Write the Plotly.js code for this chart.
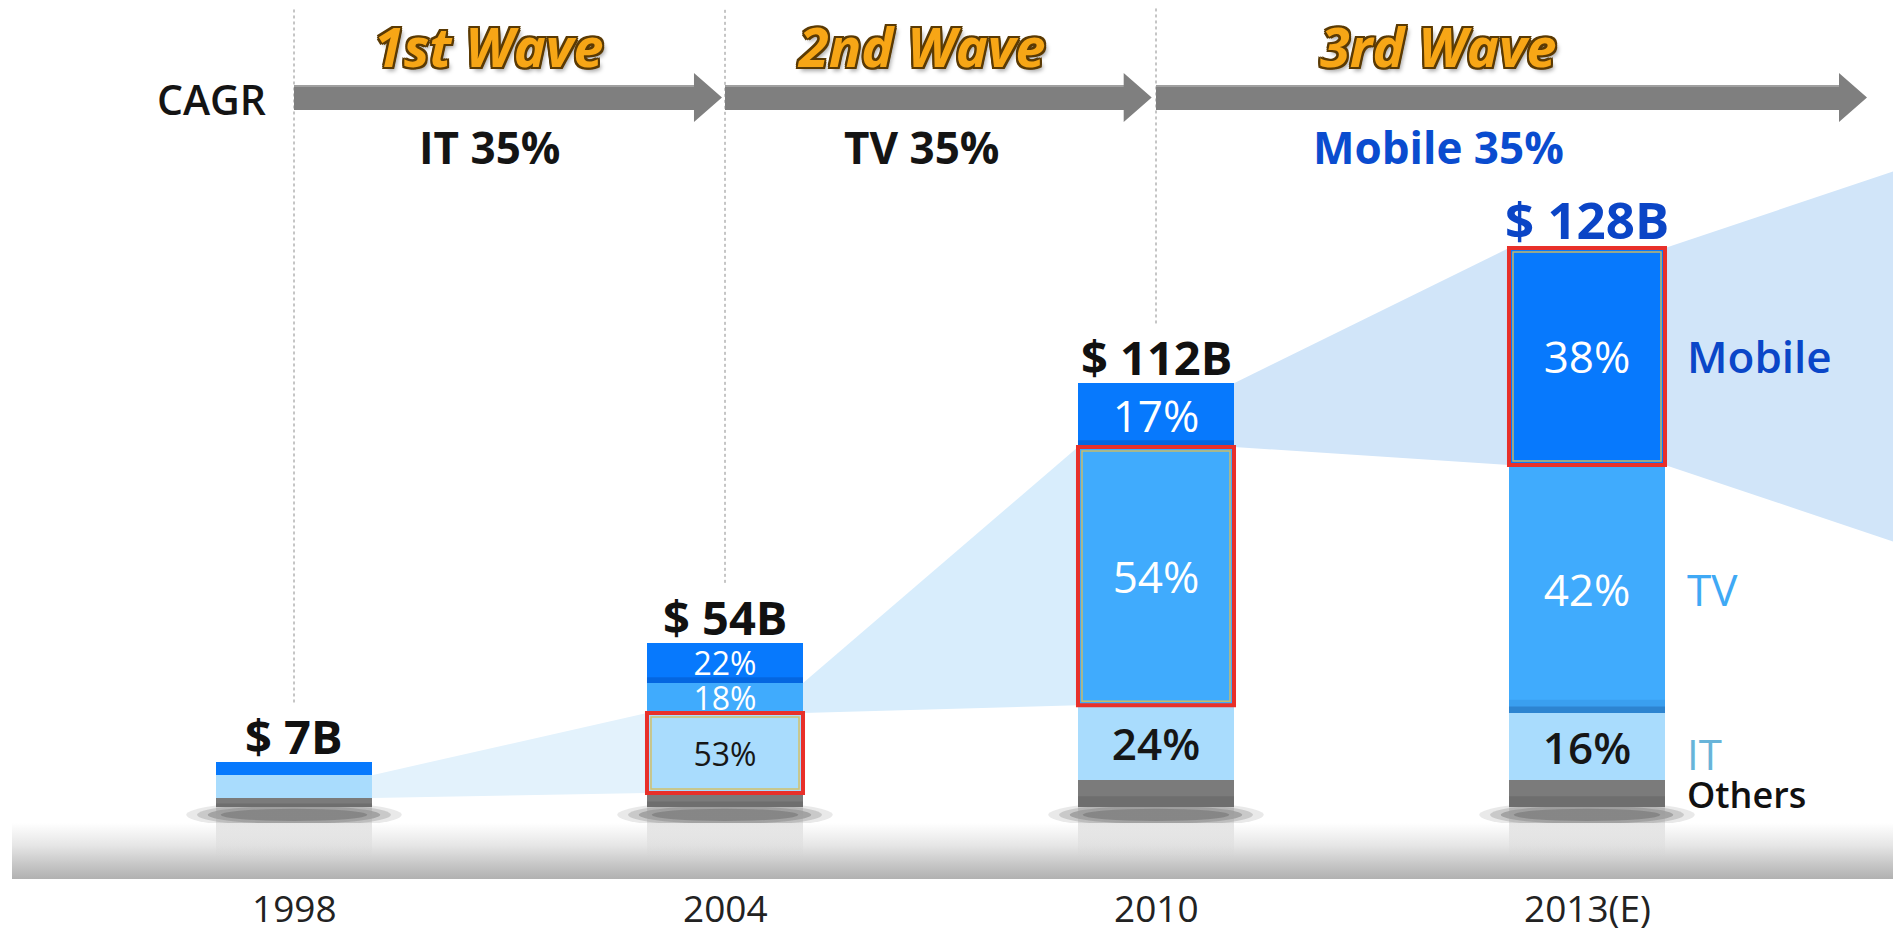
<!DOCTYPE html>
<html>
<head>
<meta charset="utf-8">
<script src="https://cdn.plot.ly/plotly-3.0.1.min.js"></script>
<style>
html,body{margin:0;padding:0;background:#ffffff;overflow:hidden;}
#chart{width:1893px;height:933px;}
</style>
</head>
<body>
<div id="chart"></div>
<script>
// ---------------- DATA ----------------
const years = ['1998', '2004', '2010', '2013(E)'];
const totalLabels = ['$ 7B', '$ 54B', '$ 112B', '$ 128B'];
// stacked segment sizes as drawn in the picture (2013 bar = 100)
const others = [1.6, 2.5, 4.8, 4.8];
const it = [4.1, 14.3, 13.4, 12.0];
const tv = [0, 5.4, 46.2, 44.4];
const mobile = [2.3, 7.2, 11.4, 38.8];
const itLabels = ['', '53%', '24%', '16%'];
const tvLabels = ['', '18%', '54%', '42%'];
const mobileLabels = ['', '22%', '17%', '38%'];
const highlighted = [null, 'IT', 'TV', 'Mobile'];
const waves = ['1st Wave', '2nd Wave', '3rd Wave'];
const cagrLabels = ['IT 35%', 'TV 35%', 'Mobile 35%'];
const segmentNames = ['Mobile', 'TV', 'IT', 'Others'];

(function () {
// ---------------- LAYOUT CONSTANTS ----------------
const W = 1893, H = 933;
const PXX = 431, X0PX = 294;          // pixels per category step, pixel of first category
const PXY = 5.59, Y0PX = 807;         // pixels per y unit, pixel of baseline
const xRange = [-X0PX / PXX, (W - X0PX) / PXX];
const yRange = [-(H - Y0PX) / PXY, Y0PX / PXY];
const yOf = p => (Y0PX - p) / PXY;    // pixel row -> y units (for decoration)
const xOf = p => (p - X0PX) / PXX;    // pixel col -> x units (for decoration)
const pY = p => 1 - p / H;            // pixel row -> paper
const barW = 0.362, hw = barW / 2;
const FONT = 'Open Sans';

const idx = years.map((_, i) => i);
const b1 = idx.map(i => others[i]);
const b2 = idx.map(i => b1[i] + it[i]);
const b3 = idx.map(i => b2[i] + tv[i]);
const tops = idx.map(i => b3[i] + mobile[i]);
const segBounds = {Others: [idx.map(() => 0), b1], IT: [b1, b2], TV: [b2, b3], Mobile: [b3, tops]};

// ---------------- TRACES ----------------
const traces = [];
function barTrace(name, vals, color, labels, tcolor, weights) {
  return {
    type: 'bar', name: name, x: idx, y: vals, width: barW,
    marker: {color: color, line: {width: 0}},
    text: labels, textposition: 'inside', insidetextanchor: 'middle',
    textangle: 0, constraintext: 'none',
    textfont: {family: FONT, size: idx.map(i => i === 1 ? 32 : 44), color: tcolor, weight: weights},
    hoverinfo: 'skip', showlegend: false, cliponaxis: false
  };
}
traces.push(barTrace('Others', others, '#7b7b7b', ['', '', '', ''], '#ffffff', 400));
traces.push(barTrace('IT', it, '#a9dcfd', itLabels, '#161616', [400, 400, 600, 600]));
traces.push(barTrace('TV', tv, '#40abfd', tvLabels, '#ffffff', 400));
traces.push(barTrace('Mobile', mobile, '#0779fd', mobileLabels, '#ffffff', 400));

// funnel wedges linking the highlighted segment from one bar to the next
function wedge(i, seg, color) {
  const [lo, hi] = segBounds[seg];
  return {
    type: 'scatter', mode: 'none', fill: 'toself', fillcolor: color,
    x: [i + hw, i + hw, i + 1 - hw, i + 1 - hw, i + hw],
    y: [lo[i], hi[i], hi[i + 1], lo[i + 1], lo[i]],
    hoverinfo: 'skip', showlegend: false
  };
}
traces.push(wedge(0, 'IT', '#e3f2fc'));
traces.push(wedge(1, 'TV', '#d8edfc'));
traces.push(wedge(2, 'Mobile', '#d1e5f9'));
const flare = 13.7;
traces.push({
  type: 'scatter', mode: 'none', fill: 'toself', fillcolor: '#d1e5f9',
  x: [3 + hw, 3 + hw, xRange[1], xRange[1], 3 + hw],
  y: [b3[3], tops[3], tops[3] + flare, b3[3] - flare, b3[3]],
  hoverinfo: 'skip', showlegend: false
});

// ground band
const gx0 = xOf(12), gTop = yOf(823), gBot = yOf(879);
traces.push({
  type: 'scatter', mode: 'none', fill: 'toself',
  x: [gx0, xRange[1], xRange[1], gx0, gx0], y: [gTop, gTop, gBot, gBot, gTop],
  fillgradient: {type: 'vertical', colorscale: [[0, '#b1b1b1'], [0.22, '#c3c3c3'], [0.6, '#e6e6e6'], [1, '#ffffff']]},
  hoverinfo: 'skip', showlegend: false
});
// reflections under bars
const rx = [], ry = [];
idx.forEach(i => {
  rx.push(i - hw, i + hw, i + hw, i - hw, i - hw, null);
  ry.push(0, 0, yOf(858), yOf(858), 0, null);
});
traces.push({
  type: 'scatter', mode: 'none', fill: 'toself', x: rx, y: ry,
  fillgradient: {type: 'vertical', colorscale: [[0, 'rgba(190,190,190,0)'], [1, 'rgba(150,150,150,0.4)']]},
  hoverinfo: 'skip', showlegend: false
});

// ---------------- SHAPES ----------------
const shapes = [];
// bar shadows (soft layered ellipses)
idx.forEach(i => {
  [[0.25, 2.4, 0.10], [0.225, 2.0, 0.16], [0.2, 1.6, 0.24], [0.17, 1.1, 0.32]].forEach(([rxw, ryh, op]) => {
    shapes.push({type: 'circle', xref: 'x', yref: 'y', layer: 'below',
      x0: i - rxw, x1: i + rxw, y0: -1.4 - ryh, y1: -1.4 + ryh,
      fillcolor: 'rgba(40,40,40,' + op + ')', line: {width: 0}});
  });
});
// darker gradient bands at the bottom of some segments
function band(i, seg, h, color) {
  const lo = segBounds[seg][0][i];
  shapes.push({type: 'rect', xref: 'x', yref: 'y', x0: i - hw, x1: i + hw, y0: lo, y1: lo + h,
    fillcolor: color, line: {width: 0}, layer: 'above'});
}
band(1, 'Mobile', 1.0, 'rgba(0,60,160,0.30)');
band(2, 'Mobile', 1.2, 'rgba(0,60,160,0.30)');
band(3, 'TV', 1.2, 'rgba(20,70,140,0.30)');
band(3, 'TV', 2.4, 'rgba(20,70,140,0.12)');
idx.forEach(i => band(i, 'Others', others[i] * 0.4, 'rgba(40,40,40,0.15)'));
// dotted guide lines
for (let i = 0; i < 3; i++) {
  shapes.push({type: 'line', xref: 'x', yref: 'y', x0: i, x1: i, y0: tops[i] + 10.7, y1: yOf(8),
    line: {color: '#8c8c8c', width: 1, dash: 'dot'}});
}
// CAGR arrows
const arrowEnds = [[0, 0.993], [1.0, 1.99], [2.0, xOf(1867)]];
const headLen = 28 / PXX;
const bT = pY(85), bB = pY(110), hT = pY(73), hB = pY(122), mid = pY(97.5);
arrowEnds.forEach(([a, b]) => {
  const h = b - headLen;
  shapes.push({type: 'path', xref: 'x', yref: 'paper',
    path: `M ${a},${bT} L ${h},${bT} L ${h},${hT} L ${b},${mid} L ${h},${hB} L ${h},${bB} L ${a},${bB} Z`,
    fillcolor: '#7f7f7f', line: {width: 0}});
  shapes.push({type: 'line', xref: 'x', yref: 'paper', x0: a, x1: h, y0: pY(86), y1: pY(86),
    line: {color: 'rgba(200,200,200,0.6)', width: 1.5}});
});
// highlight boxes
idx.forEach(i => {
  const seg = highlighted[i];
  if (!seg) return;
  const [lo, hi] = segBounds[seg];
  const ix = 4 / PXX, iy = 4 / PXY;
  shapes.push({type: 'rect', xref: 'x', yref: 'y', x0: i - hw + ix, x1: i + hw - ix, y0: lo[i] + iy, y1: hi[i] - iy,
    fillcolor: 'rgba(0,0,0,0)', line: {color: 'rgba(214,190,90,0.9)', width: 1.5}});
  shapes.push({type: 'rect', xref: 'x', yref: 'y', x0: i - hw, x1: i + hw, y0: lo[i], y1: hi[i],
    fillcolor: 'rgba(0,0,0,0)', line: {color: '#e8302a', width: 4}});
});

// ---------------- ANNOTATIONS ----------------
const ann = [];
const outline = '#5a3a04';
const o = 2;
const waveShadow = [[-o, -o], [o, -o], [-o, o], [o, o], [0, o], [0, -o], [o, 0], [-o, 0]]
  .map(([a, b]) => `${a}px ${b}px 0 ${outline}`).join(', ') + ', 3px 4px 4px rgba(0,0,0,0.35)';
const waveX = [0.453, 1.455, 2.655];
waves.forEach((t, k) => ann.push({x: waveX[k], y: pY(46), xref: 'x', yref: 'paper', text: t, showarrow: false,
  xanchor: 'center', yanchor: 'middle',
  font: {family: FONT, size: 54, color: '#f7a616', weight: 700, style: 'italic', shadow: waveShadow}}));
const cagrColors = ['#141414', '#141414', '#0a4ccf'];
cagrLabels.forEach((t, k) => ann.push({x: waveX[k], y: pY(147), xref: 'x', yref: 'paper', text: t, showarrow: false,
  xanchor: 'center', yanchor: 'middle', font: {family: FONT, size: 44, color: cagrColors[k], weight: 700}}));
ann.push({x: xOf(211), y: pY(99), xref: 'x', yref: 'paper', text: 'CAGR', showarrow: false,
  xanchor: 'center', yanchor: 'middle', font: {family: FONT, size: 41, color: '#141414', weight: 600}});
// totals
idx.forEach(i => ann.push({x: i, y: tops[i], xref: 'x', yref: 'y', text: totalLabels[i], showarrow: false,
  xanchor: 'center', yanchor: 'middle', yshift: i === 3 ? 29 : 26,
  font: {family: FONT, size: i === 3 ? 51 : 47, color: i === 3 ? '#0b45c6' : '#111111', weight: 700}}));
// years
idx.forEach(i => ann.push({x: i, y: yOf(907), xref: 'x', yref: 'y', text: years[i], showarrow: false,
  xanchor: 'center', yanchor: 'middle', font: {family: FONT, size: 37, color: '#222222'}}));
// side labels next to the last bar
const sideStyle = {
  Mobile: {color: '#0a46c8', size: 44, weight: 600, dy: 0},
  TV: {color: '#3fa9f5', size: 44, weight: 400, dy: 0},
  IT: {color: '#68b4d9', size: 42, weight: 400, dy: -1.2},
  Others: {color: '#111111', size: 36, weight: 600, dy: -0.2}
};
const last = years.length - 1;
segmentNames.forEach(s => {
  const [lo, hi] = segBounds[s];
  const st = sideStyle[s];
  ann.push({x: last + hw + 20 / PXX, y: (lo[last] + hi[last]) / 2 + st.dy, xref: 'x', yref: 'y', text: s, showarrow: false,
    xanchor: 'left', yanchor: 'middle',
    font: {family: FONT, size: st.size, color: st.color, weight: st.weight}});
});

const layout = {
  width: W, height: H, margin: {l: 0, r: 0, t: 0, b: 0, pad: 0},
  paper_bgcolor: '#ffffff', plot_bgcolor: '#ffffff',
  barmode: 'stack', bargap: 0, showlegend: false,
  xaxis: {range: xRange, visible: false, fixedrange: true},
  yaxis: {range: yRange, visible: false, fixedrange: true},
  shapes: shapes, annotations: ann
};
Plotly.newPlot('chart', traces, layout, {displayModeBar: false, staticPlot: true});
})();
</script>
</body>
</html>
